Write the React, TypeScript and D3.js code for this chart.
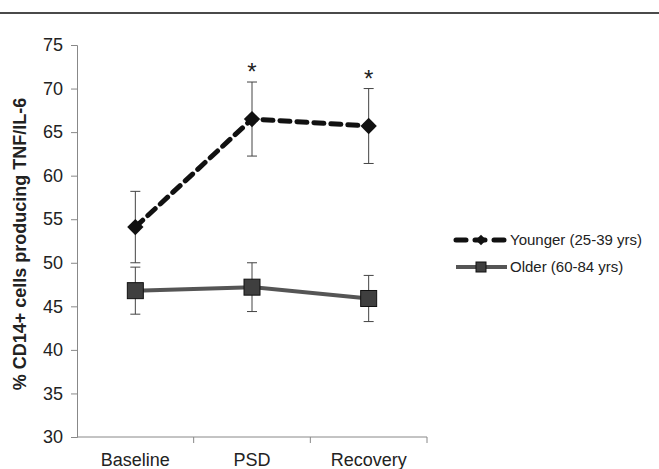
import { useEffect, useRef } from 'react';
import * as d3 from 'd3';

const categories = ['Baseline', 'PSD', 'Recovery'];
const younger = [54.1, 66.5, 65.7];
const youngerErr = [4.1, 4.25, 4.3];
const older = [46.8, 47.2, 45.9];
const olderErr = [2.7, 2.8, 2.65];
const significant = [false, true, true];
const yTicks = [30, 35, 40, 45, 50, 55, 60, 65, 70, 75];
const seriesNames = ['Younger (25-39 yrs)', 'Older (60-84 yrs)'];

const W = 659;
const H = 469;
const FONT = '"Liberation Sans", Arial, sans-serif';

const App = () => {
    const ref = useRef<SVGSVGElement>(null);

    useEffect(() => {
        const svg = d3.select(ref.current);
        svg.selectAll('*').remove();

        const x = d3.scaleBand().domain(categories).range([77, 427]);
        const y = d3.scaleLinear().domain([30, 75]).range([437, 45]);
        const cx = (c: string) => (x(c) as number) + x.bandwidth() / 2;

        // top rule
        svg.append('line')
            .attr('x1', 0).attr('x2', W).attr('y1', 13).attr('y2', 13)
            .attr('stroke', '#4a4a4a').attr('stroke-width', 2);

        // y axis
        const yAxis = svg.append('g')
            .attr('transform', 'translate(77,0)')
            .call(d3.axisLeft(y).tickValues(yTicks).tickSize(6).tickPadding(8));
        yAxis.select('.domain').attr('stroke', '#888');
        yAxis.selectAll('.tick line').attr('stroke', '#888');
        yAxis.selectAll('text')
            .attr('font-family', FONT).attr('font-size', 18).attr('fill', '#222');

        // x axis, ticks at band boundaries
        const xg = svg.append('g').attr('transform', 'translate(0,437)');
        xg.append('line').attr('x1', 77).attr('x2', 427)
            .attr('stroke', '#888');
        xg.selectAll('line.b')
            .data(categories)
            .enter()
            .append('line')
            .attr('x1', d => (x(d) as number) + x.bandwidth())
            .attr('x2', d => (x(d) as number) + x.bandwidth())
            .attr('y1', 0).attr('y2', 6)
            .attr('stroke', '#888');
        xg.selectAll('text')
            .data(categories)
            .enter()
            .append('text')
            .attr('x', d => cx(d))
            .attr('y', 29)
            .attr('text-anchor', 'middle')
            .attr('font-family', FONT).attr('font-size', 18).attr('fill', '#222')
            .text(d => d);

        // y label
        svg.append('text')
            .attr('transform', 'translate(26,244) rotate(-90)')
            .attr('text-anchor', 'middle')
            .attr('font-family', FONT).attr('font-size', 18).attr('font-weight', 'bold')
            .attr('fill', '#222')
            .text('% CD14+ cells producing TNF/IL-6');

        const drawErr = (vals: number[], errs: number[]) => {
            const g = svg.append('g').attr('stroke', '#444').attr('stroke-width', 1);
            categories.forEach((c, i) => {
                const px = cx(c);
                g.append('line').attr('x1', px).attr('x2', px)
                    .attr('y1', y(vals[i] + errs[i])).attr('y2', y(vals[i] - errs[i]));
                [vals[i] + errs[i], vals[i] - errs[i]].forEach(v => {
                    g.append('line').attr('x1', px - 5).attr('x2', px + 5)
                        .attr('y1', y(v)).attr('y2', y(v));
                });
            });
        };

        drawErr(older, olderErr);
        drawErr(younger, youngerErr);

        const line = d3.line<number>()
            .x((_, i) => cx(categories[i]))
            .y(d => y(d));

        // older series
        svg.append('path')
            .attr('d', line(older))
            .attr('fill', 'none')
            .attr('stroke', '#555')
            .attr('stroke-width', 4);
        svg.selectAll('rect.old')
            .data(older)
            .enter()
            .append('rect')
            .attr('x', (_, i) => cx(categories[i]) - 8)
            .attr('y', d => y(d) - 8)
            .attr('width', 16).attr('height', 16)
            .attr('fill', '#3f3f3f').attr('stroke', '#111').attr('stroke-width', 1);

        // younger series
        svg.append('path')
            .attr('d', line(younger))
            .attr('fill', 'none')
            .attr('stroke', '#111')
            .attr('stroke-width', 5)
            .attr('stroke-dasharray', '10,7')
            .attr('stroke-linecap', 'round');
        const diamond = d3.symbol().type(d3.symbolDiamond2).size(170);
        svg.selectAll('path.yg')
            .data(younger)
            .enter()
            .append('path')
            .attr('d', diamond)
            .attr('transform', (d, i) => `translate(${cx(categories[i])},${y(d)})`)
            .attr('fill', '#111');

        // significance asterisks
        categories.forEach((c, i) => {
            if (!significant[i]) return;
            svg.append('text')
                .attr('x', cx(c))
                .attr('y', y(younger[i] + youngerErr[i]) - 2)
                .attr('text-anchor', 'middle')
                .attr('font-family', FONT).attr('font-size', 24).attr('fill', '#222')
                .text('*');
        });

        // legend
        const lg = svg.append('g').attr('transform', 'translate(456,240)');
        lg.append('line').attr('x1', 0).attr('x2', 51).attr('y1', 0).attr('y2', 0)
            .attr('stroke', '#111').attr('stroke-width', 5)
            .attr('stroke-dasharray', '10,9').attr('stroke-linecap', 'round');
        lg.append('path').attr('d', d3.symbol().type(d3.symbolDiamond2).size(70)())
            .attr('transform', 'translate(25,0)').attr('fill', '#111');
        lg.append('line').attr('x1', 0).attr('x2', 51).attr('y1', 27).attr('y2', 27)
            .attr('stroke', '#555').attr('stroke-width', 4);
        lg.append('rect').attr('x', 20).attr('y', 22).attr('width', 10).attr('height', 10)
            .attr('fill', '#3f3f3f').attr('stroke', '#111');
        lg.selectAll('text')
            .data(seriesNames)
            .enter()
            .append('text')
            .attr('x', 54)
            .attr('y', (_, i) => i * 27 + 5)
            .attr('font-family', FONT).attr('font-size', 15).attr('fill', '#222')
            .text(d => d);
    }, []);

    return (
        <svg ref={ref} width={W} height={H}
            style={{ position: 'absolute', left: 0, top: 0, background: '#fff' }} />
    );
};

export default App;
